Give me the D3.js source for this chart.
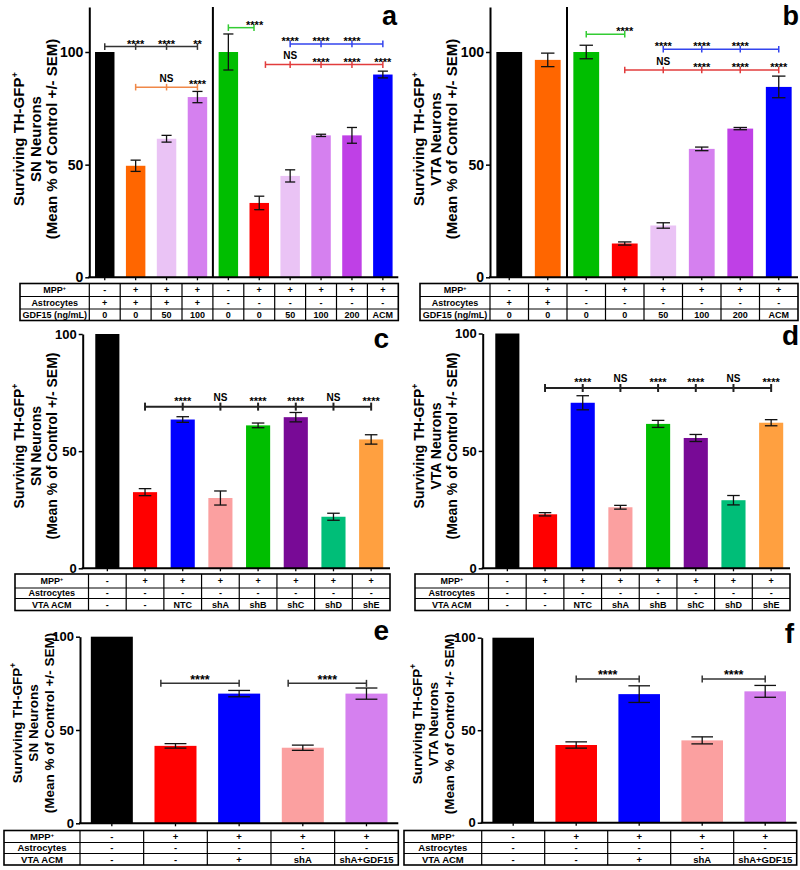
<!DOCTYPE html>
<html><head><meta charset="utf-8">
<script src="https://cdn.jsdelivr.net/npm/d3@7"></script>
<style>
body{margin:0;background:#fff}
svg{display:block}
text{font-family:"Liberation Sans",Arial,Helvetica,sans-serif;font-weight:bold;fill:#000}
</style>
</head><body>
<svg id="chart" width="800" height="870"></svg>
<script>
// ================= DATA =================
const yTicks = [0, 50, 100];

// Panel a – SN neurons, GDF15 dose response
const aValues = [100, 49.5, 61.5, 80, 100, 33, 45, 63, 63, 90];
const aErrors = [0, 2.5, 1.5, 2.5, 8, 3, 2.7, 0.5, 3.5, 1.5];
const aMPP    = ["-","+","+","+","-","+","+","+","+","+"];
const aAstro  = ["+","+","+","+","-","-","-","-","-","-"];
const aGDF15  = ["0","0","50","100","0","0","50","100","200","ACM"];
const aBrackets = [
  {from:0, to:3, level:102.4, ticks:[1,2], labels:[[1,"****"],[2,"****"],[3,"**"]], color:"#333333"},
  {from:1, to:3, level:84.4, ticks:[2], labels:[[2,"NS"],[3,"****"]], color:"#F08848"},
  {from:4, to:4.83, level:110.8, ticks:[], labels:[[4.85,"****"]], color:"#33CC33"},
  {from:6, to:9, level:103.6, ticks:[7,8], labels:[[6,"****"],[7,"****"],[8,"****"]], color:"#3344EE"},
  {from:5.2, to:9, level:94.4, ticks:[6,7,8], labels:[[6,"NS"],[7,"****"],[8,"****"],[9,"****"]], color:"#E23C3C"}
];

// Panel b – VTA neurons, GDF15 dose response
const bValues = [100, 96.5, 100, 15, 23, 57, 66, 84.5];
const bErrors = [0, 3, 3, 0.7, 1.2, 0.8, 0.5, 4.8];
const bMPP    = ["-","+","-","+","+","+","+","+"];
const bAstro  = ["+","+","-","-","-","-","-","-"];
const bGDF15  = ["0","0","0","0","50","100","200","ACM"];
const bBrackets = [
  {from:2, to:3, level:107.9, ticks:[], labels:[[3,"****"]], color:"#33CC33"},
  {from:4, to:7, level:101.2, ticks:[5,6], labels:[[4,"****"],[5,"****"],[6,"****"]], color:"#3344EE"},
  {from:3, to:7, level:92, ticks:[4,5,6], labels:[[4,"NS"],[5,"****"],[6,"****"],[7,"****"]], color:"#E23C3C"}
];

// Panel c – SN neurons, shRNA ACM
const cValues = [100, 32.5, 63.5, 30, 61, 64.5, 22, 55];
const cErrors = [0, 1.5, 1.2, 3, 1, 2, 1.5, 2];
const cMPP    = ["-","+","+","+","+","+","+","+"];
const cAstro  = ["-","-","-","-","-","-","-","-"];
const cACM    = ["-","-","NTC","shA","shB","shC","shD","shE"];
const cBrackets = [
  {from:1, to:7, level:69.0, ticks:[2,3,4,5,6], labels:[[2,"****"],[3,"NS"],[4,"****"],[5,"****"],[6,"NS"],[7,"****"]], color:"#222222"}
];

// Panel d – VTA neurons, shRNA ACM
const dValues = [100, 23, 70.5, 26, 61.5, 55.5, 29, 62];
const dErrors = [0, 0.7, 3, 0.8, 1.5, 1.5, 2, 1.3];
const dMPP    = ["-","+","+","+","+","+","+","+"];
const dAstro  = ["-","-","-","-","-","-","-","-"];
const dACM    = ["-","-","NTC","shA","shB","shC","shD","shE"];
const dBrackets = [
  {from:1, to:7, level:76.8, ticks:[2,3,4,5,6], labels:[[2,"****"],[3,"NS"],[4,"****"],[5,"****"],[6,"NS"],[7,"****"]], color:"#222222"}
];

// Panel e – SN neurons, GDF15 rescue
const eValues = [100, 41.5, 69.5, 40.5, 69.5];
const eErrors = [0, 1.2, 1.7, 1.4, 3];
const eMPP    = ["-","+","+","+","+"];
const eAstro  = ["-","-","-","-","-"];
const eACM    = ["-","-","+","shA","shA+GDF15"];
const eBrackets = [
  {from:0.77, to:2, level:75.0, ticks:[], labels:[[1.385,"****"]], color:"#333333"},
  {from:2.77, to:4, level:75.0, ticks:[], labels:[[3.385,"****"]], color:"#333333"}
];

// Panel f – VTA neurons, GDF15 rescue
const fValues = [100, 42, 69.5, 44.5, 71];
const fErrors = [0, 1.7, 4.5, 1.9, 3.2];
const fMPP    = ["-","+","+","+","+"];
const fAstro  = ["-","-","-","-","-"];
const fACM    = ["-","-","+","shA","shA+GDF15"];
const fBrackets = [
  {from:1, to:2, level:77.7, ticks:[], labels:[[1.5,"****"]], color:"#333333"},
  {from:3, to:4, level:77.7, ticks:[], labels:[[3.5,"****"]], color:"#333333"}
];

// ================= STYLE =================
const C = {
  black:"#000000", orange:"#FF6600", lav:"#EAC3F5", med:"#D580EF", green:"#00BE00",
  red:"#FF0000", purple:"#BF40E6", blue:"#0000FF", pink:"#FBA0A0", dpurple:"#780A96",
  teal:"#00BE78", lorange:"#FFA040"
};
const aColors = [C.black,C.orange,C.lav,C.med,C.green,C.red,C.lav,C.med,C.purple,C.blue];
const bColors = [C.black,C.orange,C.green,C.red,C.lav,C.med,C.purple,C.blue];
const cdColors = [C.black,C.red,C.blue,C.pink,C.green,C.dpurple,C.teal,C.lorange];
const efColors = [C.black,C.red,C.blue,C.pink,C.med];

const svg = d3.select("#chart");

function drawPanel(P) {
  const g = svg.append("g");
  const n = P.values.length;
  const x = d3.scaleBand().domain(d3.range(n)).range([P.bandL, P.bandR])
    .paddingInner(P.pad).paddingOuter(P.pad / 2);
  const step = x.step();
  const cx = i => P.bandL + step * (i + 0.5);
  const yTopPx = P.y0 - (P.y0 - P.y100) * P.ymax / 100;
  const y = d3.scaleLinear().domain([0, P.ymax]).range([P.y0, yTopPx]);

  // bars
  g.selectAll("rect.bar").data(P.values).join("rect").attr("class","bar")
    .attr("x", (d,i) => x(i)).attr("width", x.bandwidth())
    .attr("y", d => y(d)).attr("height", d => y(0) - y(d))
    .attr("fill", (d,i) => P.colors[i]);

  // error bars
  const capW = x.bandwidth() * 0.52;
  const eb = g.selectAll("g.err").data(P.values.map((v,i)=>({v, e:P.errors[i], i})).filter(d=>d.e>0))
    .join("g").attr("class","err").attr("stroke","#111").attr("stroke-width",1.3);
  eb.append("line").attr("x1",d=>cx(d.i)).attr("x2",d=>cx(d.i)).attr("y1",d=>y(d.v+d.e)).attr("y2",d=>y(d.v-d.e));
  eb.append("line").attr("x1",d=>cx(d.i)-capW/2).attr("x2",d=>cx(d.i)+capW/2).attr("y1",d=>y(d.v+d.e)).attr("y2",d=>y(d.v+d.e));
  eb.append("line").attr("x1",d=>cx(d.i)-capW/2).attr("x2",d=>cx(d.i)+capW/2).attr("y1",d=>y(d.v-d.e)).attr("y2",d=>y(d.v-d.e));

  // y axis
  const ya = g.append("g").attr("transform", `translate(${P.axisX},0)`)
    .call(d3.axisLeft(y).tickValues(yTicks).tickSize(4).tickSizeOuter(0).tickPadding(2));
  ya.select(".domain").attr("stroke","#000").attr("stroke-width",2);
  ya.selectAll(".tick line").attr("stroke","#000").attr("stroke-width",1.5);
  ya.selectAll(".tick text").attr("font-size",P.tickSize).attr("font-weight","bold")
    .attr("font-family",'"Liberation Sans",Arial,sans-serif').attr("fill","#000");

  // x axis
  const xa = g.append("g").attr("transform", `translate(0,${P.y0})`)
    .call(d3.axisBottom(x).tickSize(3).tickSizeOuter(0).tickFormat(""));
  xa.select(".domain").remove();
  xa.selectAll(".tick line").attr("stroke","#000").attr("stroke-width",1.3);
  g.append("line").attr("x1",P.axisX-1).attr("x2",P.bandR).attr("y1",P.y0).attr("y2",P.y0)
    .attr("stroke","#000").attr("stroke-width",2);

  // separator
  if (P.sep != null) {
    const sx = P.bandL + P.sep * step;
    g.append("line").attr("x1",sx).attr("x2",sx).attr("y1",y(0)).attr("y2",y(P.ymax))
      .attr("stroke","#000").attr("stroke-width",2);
  }

  // brackets
  P.brackets.forEach(b => {
    const by = y(b.level);
    const bg = g.append("g").attr("stroke", b.color).attr("stroke-width", P.bracketW);
    bg.append("line").attr("x1",cx(b.from)).attr("x2",cx(b.to)).attr("y1",by).attr("y2",by);
    [b.from, ...b.ticks, b.to].forEach(t => {
      bg.append("line").attr("x1",cx(t)).attr("x2",cx(t)).attr("y1",by-P.bTick).attr("y2",by+P.bTick);
    });
    b.labels.forEach(([i, s]) => {
      const star = s[0] === "*";
      g.append("text").attr("x", cx(i)).attr("y", star ? by + P.starOff : by - 5.5)
        .attr("text-anchor","middle").attr("font-size", star ? P.starSize : 10)
        .attr("fill","#111").text(s);
    });
  });

  // table
  const colX = [P.tableL, ...d3.range(n + 1).map(i => P.bandL + i * step)];
  const rY = P.rowY;
  const tg = g.append("g");
  tg.append("rect").attr("x",P.tableL).attr("y",rY[0]).attr("width",P.bandR-P.tableL).attr("height",rY[3]-rY[0])
    .attr("fill","none").attr("stroke","#000").attr("stroke-width",1.6);
  [rY[1], rY[2]].forEach(yy => tg.append("line").attr("x1",P.tableL).attr("x2",P.bandR).attr("y1",yy).attr("y2",yy)
    .attr("stroke","#000").attr("stroke-width",1));
  colX.slice(1, -1).forEach(xx => tg.append("line").attr("x1",xx).attr("x2",xx).attr("y1",rY[0]).attr("y2",rY[3])
    .attr("stroke","#000").attr("stroke-width",1.2));
  P.rows.forEach((row, r) => {
    const cy = (rY[r] + rY[r+1]) / 2;
    const lab = tg.append("text").attr("x",(colX[0]+colX[1])/2).attr("y",cy).attr("dy","0.35em")
      .attr("text-anchor","middle").attr("font-size",P.tableFont);
    if (row.label === "MPP") {
      lab.append("tspan").text("MPP");
      lab.append("tspan").attr("font-size",P.tableFont*0.6).attr("dy",-3).text("+");
    } else lab.text(row.label);
    row.cells.forEach((c, i) => {
      tg.append("text").attr("x",(colX[i+1]+colX[i+2])/2).attr("y",cy).attr("dy","0.35em")
        .attr("text-anchor","middle").attr("font-size",P.tableFont).text(c);
    });
  });

  // y label
  P.ylabLines.forEach((line, k) => {
    const t = g.append("text").attr("transform",`translate(${P.ylabX[k]},${P.ylabY}) rotate(-90)`)
      .attr("text-anchor","middle").attr("font-size",P.ylabSize);
    if (k === 0) {
      t.append("tspan").text(line);
      t.append("tspan").attr("font-size",P.ylabSize*0.62).attr("dy",-6).text("+");
    } else t.text(line);
  });

  // panel letter
  g.append("text").attr("x",P.letterX).attr("y",P.letterY).attr("text-anchor","end")
    .attr("font-size",P.letterSize || 28).text(P.letter);
}

const labSN = ["Surviving TH-GFP","SN Neurons","(Mean % of Control +/- SEM)"];
const labVTA = ["Surviving TH-GFP","VTA Neurons","(Mean % of Control +/- SEM)"];

drawPanel({letter:"a", values:aValues, errors:aErrors, colors:aColors, brackets:aBrackets,
  rows:[{label:"MPP",cells:aMPP},{label:"Astrocytes",cells:aAstro},{label:"GDF15 (ng/mL)",cells:aGDF15}],
  axisX:89.3, bandL:89.3, bandR:398.3, pad:0.37, y0:277.3, y100:52, ymax:120, sep:4,
  tableL:20, rowY:[283.5,296.5,309,320.5], tableFont:9,
  ylabLines:labSN, ylabX:[24,40.5,57], ylabY:139, ylabSize:15, tickSize:14,
  bracketW:1.5, bTick:3.3, starSize:11, starOff:1, letterX:397, letterY:25, letterSize:27});

drawPanel({letter:"b", values:bValues, errors:bErrors, colors:bColors, brackets:bBrackets,
  rows:[{label:"MPP",cells:bMPP},{label:"Astrocytes",cells:bAstro},{label:"GDF15 (ng/mL)",cells:bGDF15}],
  axisX:490, bandL:490, bandR:798, pad:0.33, y0:277.3, y100:52, ymax:120, sep:2,
  tableL:420, rowY:[283.5,296.5,309,320.5], tableFont:9,
  ylabLines:labVTA, ylabX:[424,440.5,457], ylabY:139, ylabSize:15, tickSize:14,
  bracketW:1.5, bTick:3.3, starSize:11, starOff:1, letterX:799, letterY:25, letterSize:27});

drawPanel({letter:"c", values:cValues, errors:cErrors, colors:cdColors, brackets:cBrackets,
  rows:[{label:"MPP",cells:cMPP},{label:"Astrocytes",cells:cAstro},{label:"VTA ACM",cells:cACM}],
  axisX:82.7, bandL:88.5, bandR:390, pad:0.36, y0:568.3, y100:334, ymax:100, sep:null,
  tableL:15, rowY:[574,588,598.5,610.5], tableFont:9,
  ylabLines:labSN, ylabX:[24,40.5,57], ylabY:446, ylabSize:14, tickSize:13,
  bracketW:2, bTick:4, starSize:11, starOff:-1.5, letterX:389, letterY:348});

drawPanel({letter:"d", values:dValues, errors:dErrors, colors:cdColors, brackets:dBrackets,
  rows:[{label:"MPP",cells:dMPP},{label:"Astrocytes",cells:dAstro},{label:"VTA ACM",cells:dACM}],
  axisX:482.7, bandL:488.5, bandR:790, pad:0.36, y0:568.3, y100:333.5, ymax:100, sep:null,
  tableL:415, rowY:[574,588,598.5,610.5], tableFont:9,
  ylabLines:labVTA, ylabX:[424,440.5,457], ylabY:446, ylabSize:14, tickSize:13,
  bracketW:2, bTick:4, starSize:11, starOff:-1.5, letterX:799, letterY:345});

drawPanel({letter:"e", values:eValues, errors:eErrors, colors:efColors, brackets:eBrackets,
  rows:[{label:"MPP",cells:eMPP},{label:"Astrocytes",cells:eAstro},{label:"VTA ACM",cells:eACM}],
  axisX:80, bandL:80, bandR:398.3, pad:0.34, y0:823.3, y100:636.7, ymax:100, sep:null,
  tableL:4, rowY:[830.5,842.5,853.5,865], tableFont:9.5,
  ylabLines:labSN, ylabX:[22,38,54], ylabY:723, ylabSize:13.5, tickSize:13,
  bracketW:1.5, bTick:3.5, starSize:12.5, starOff:1, letterX:389, letterY:640});

drawPanel({letter:"f", values:fValues, errors:fErrors, colors:efColors, brackets:fBrackets,
  rows:[{label:"MPP",cells:fMPP},{label:"Astrocytes",cells:fAstro},{label:"VTA ACM",cells:fACM}],
  axisX:481.7, bandL:481.7, bandR:796.7, pad:0.34, y0:822.7, y100:637.7, ymax:100, sep:null,
  tableL:404, rowY:[830.5,842.5,853.5,865], tableFont:9.5,
  ylabLines:labVTA, ylabX:[422,438,454], ylabY:724, ylabSize:13.5, tickSize:13,
  bracketW:1.5, bTick:3.5, starSize:12.5, starOff:0, letterX:794, letterY:643});
</script>
</body></html>
